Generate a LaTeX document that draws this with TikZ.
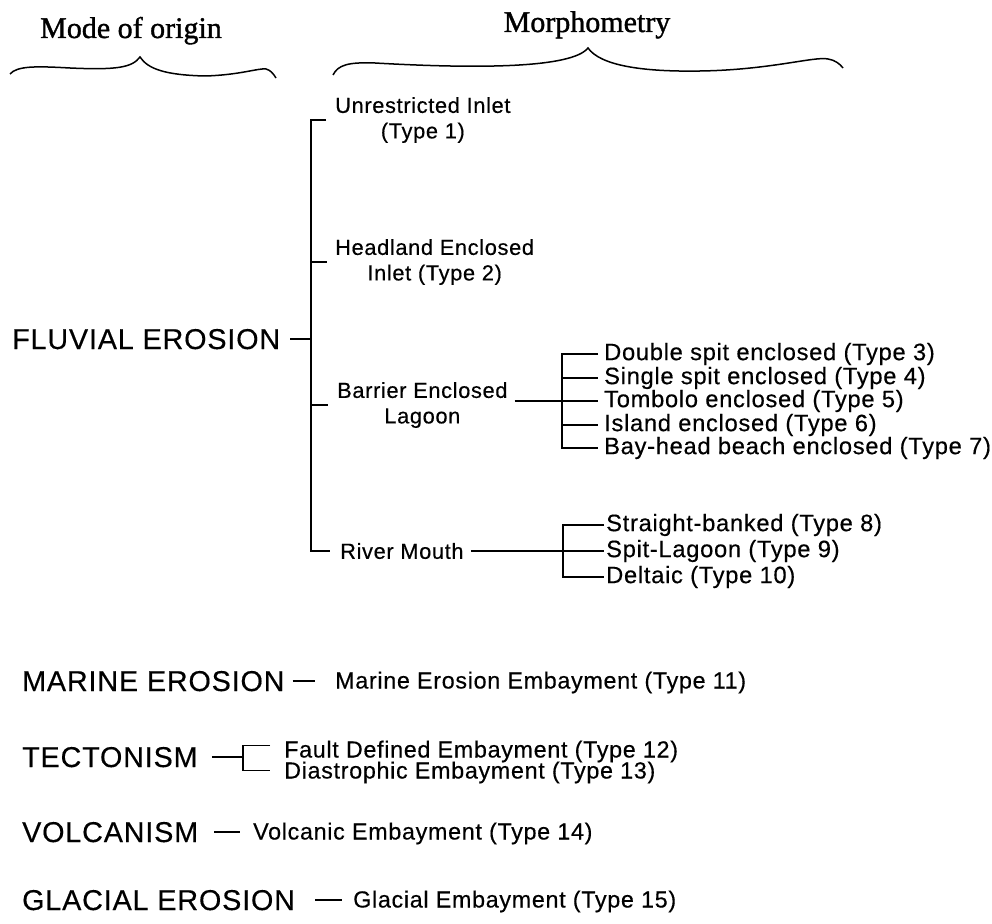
\documentclass[tikz,border=0pt]{standalone}
\usepackage{fontspec}
\usepackage{tikz}
\setmainfont{Liberation Serif}
\newfontfamily\trackedsans[LetterSpace=3,FakeBold=0.4]{Liberation Sans}
\newfontfamily\headserif[FakeBold=1.2]{Liberation Serif}

\begin{document}
\begin{tikzpicture}[x=1pt,y=-1pt,
    origin/.style={anchor=base west, inner sep=0pt, font=\trackedsans\fontsize{28.7}{30}\selectfont},
    morph/.style={anchor=west, inner sep=0pt, align=center, font=\trackedsans\fontsize{21.8}{25.5}\selectfont},
    subtype/.style={anchor=west, inner sep=0pt, font=\trackedsans\fontsize{23.7}{25.5}\selectfont},
    embay/.style={anchor=base west, inner sep=0pt, font=\trackedsans\fontsize{23.3}{25.5}\selectfont},
    heading/.style={anchor=base, inner sep=0pt, font=\headserif\fontsize{30}{32}\selectfont},
    link/.style={line width=1.5pt},
    dashline/.style={line width=1.3pt}]
\useasboundingbox (0,0) rectangle (992,923);

            % Column headings
            \node[heading] (modehead) at (131,38) {Mode of origin};
            \node[heading] (morphhead) at (587,32) {Morphometry};

            \draw[link] (10,74) .. controls (17,66) and (35,66) .. (70,68) .. controls (115,70) and (132,68) .. (140,57)
                .. controls (148,69) and (165,75) .. (205,76) .. controls (240,75) and (258,68) .. (266,69)
                .. controls (270,70) and (273,73) .. (276,78);
            \draw[link] (333,75) .. controls (338,65) and (348,62) .. (375,63) .. controls (480,69) and (572,68) .. (588,48)
                .. controls (600,65) and (640,72) .. (700,71) .. controls (770,70) and (815,56) .. (828,59)
                .. controls (835,60) and (840,64) .. (843,68);

            % Fluvial erosion
            \node[origin] (fluvial) at (12,349) {FLUVIAL EROSION};
            \node[morph] (unres) at (335,120) {Unrestricted Inlet\\(Type 1)};
            \node[morph] (headl) at (335,262) {Headland Enclosed\\Inlet (Type 2)};
            \node[morph] (barrier) at (337,405) {Barrier Enclosed\\Lagoon};
            \node[morph] (river) at (340,551) {River Mouth};

            \coordinate (trunktop) at (311,120);
            \coordinate (trunkbot) at (311,551);
            \draw[link] ([xshift=-9pt]unres.west) -- (trunktop) -- (trunkbot) -- ([xshift=-10pt]river.west);
            \draw[link, shorten >=8pt] (headl.west -| trunktop) -- (headl.west);
            \draw[link, shorten >=9pt] (barrier.west -| trunktop) -- (barrier.west);
            \draw[link, shorten <=10pt] (fluvial.east) -- (fluvial.east -| trunktop);

            % Barrier enclosed lagoons
            \node[subtype] (dblspit) at (604,354) {Double spit enclosed (Type 3)};
            \node[subtype] (sglspit) at (604,378) {Single spit enclosed (Type 4)};
            \node[subtype] (tombolo) at (604,401) {Tombolo enclosed (Type 5)};
            \node[subtype] (island) at (604,425) {Island enclosed (Type 6)};
            \node[subtype] (bayhead) at (604,448) {Bay-head beach enclosed (Type 7)};

            \draw[link] ([xshift=-6pt]dblspit.west) -| ([xshift=-42pt]bayhead.west) -- ([xshift=-6pt]bayhead.west);
            \foreach \sub in {sglspit,island}
                \draw[link] ([xshift=-42pt]\sub.west) -- ([xshift=-6pt]\sub.west);
            \draw[link, shorten <=7pt, shorten >=6pt] (barrier.east |- tombolo.west) -- (tombolo.west);

            % River mouths
            \node[subtype] (straight) at (606,525) {Straight-banked (Type 8)};
            \node[subtype] (spitlag) at (606,551) {Spit-Lagoon (Type 9)};
            \node[subtype] (deltaic) at (606,577) {Deltaic (Type 10)};

            \draw[link] ([xshift=-2pt]straight.west) -| ([xshift=-43pt]deltaic.west) -- ([xshift=-2pt]deltaic.west);
            \draw[link, shorten <=7pt, shorten >=2pt] (river.east) -- (spitlag.west);

            % Other modes of origin
            \node[origin] (marine) at (22,691) {MARINE EROSION};
            \node[embay] (marineemb) at (335,688.5) {Marine Erosion Embayment (Type 11)};
            \draw[dashline, shorten <=8pt, shorten >=20pt] (marine.east) -- (marine.east -| marineemb.west);

            \node[origin] (tecto) at (22,767) {TECTONISM};
            \node[embay] (fault) at (284,757.5) {Fault Defined Embayment (Type 12)};
            \node[embay] (diastro) at (284,778.5) {Diastrophic Embayment (Type 13)};
            \coordinate (tectbrk) at ([xshift=-41pt]fault.west);
            \draw[dashline, shorten <=14pt] (tecto.east) -- (tecto.east -| tectbrk);
            \draw[link] ([xshift=-14pt,yshift=6pt]fault.west) -- ([xshift=-41pt,yshift=6pt]fault.west)
                -- ([xshift=-41pt,yshift=2pt]diastro.west) -- ([xshift=-14pt,yshift=2pt]diastro.west);

            \node[origin] (volc) at (22,842) {VOLCANISM};
            \node[embay] (volcemb) at (253,839.5) {Volcanic Embayment (Type 14)};
            \draw[dashline, shorten <=16pt, shorten >=13pt] (volc.east) -- (volc.east -| volcemb.west);

            \node[origin] (glac) at (22,910) {GLACIAL EROSION};
            \node[embay] (glacemb) at (353,907.5) {Glacial Embayment (Type 15)};
            \draw[dashline, shorten <=20pt, shorten >=11pt] (glac.east) -- (glac.east -| glacemb.west);
\end{tikzpicture}
\end{document}
